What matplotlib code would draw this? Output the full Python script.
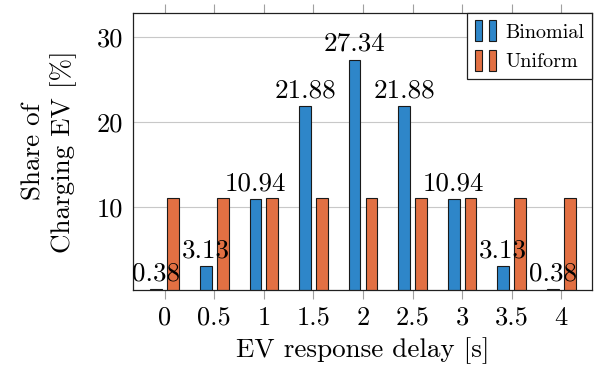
import matplotlib
matplotlib.use("Agg")
import matplotlib.pyplot as plt
from matplotlib.patches import Rectangle
from matplotlib.legend_handler import HandlerBase

plt.rcParams['font.family'] = 'serif'
plt.rcParams['font.serif'] = ['cmr10']
plt.rcParams['mathtext.fontset'] = 'cm'
plt.rcParams['axes.formatter.use_mathtext'] = True

delays = [0, 0.5, 1, 1.5, 2, 2.5, 3, 3.5, 4]
tick_labels = ["0", "0.5", "1", "1.5", "2", "2.5", "3", "3.5", "4"]
binomial = [0.38, 3.13, 10.94, 21.88, 27.34, 21.88, 10.94, 3.13, 0.38]
uniform = [11.11, 11.11, 11.11, 11.11, 11.11, 11.11, 11.11, 11.11, 11.11]
y_ticks = [10, 20, 30]

blue = '#2e86c9'
orange = '#e27043'
edge = '#1a1a1a'

fig = plt.figure(figsize=(5.97, 3.74), dpi=100)
ax = fig.add_axes([133/597, 1-290/374, (592-133)/597, (290-13)/374])

w = 0.118
off = 0.085
xb = [d - off for d in delays]
xu = [d + off for d in delays]
ax.bar(xb, binomial, width=w, color=blue, edgecolor=edge, linewidth=0.8, zorder=2)
ax.bar(xu, uniform, width=w, color=orange, edgecolor=edge, linewidth=0.8, zorder=2)

for x, v in zip(xb, binomial):
    ax.annotate(f"{v:.2f}", xy=(x, v), xytext=(0, 6.3), textcoords='offset points',
                ha='center', va='baseline', fontsize=19.5, zorder=5)

ax.set_xlim(-0.32, 4.31)
ax.set_ylim(0.3, 32.8)
ax.set_xticks(delays)
ax.set_xticklabels(tick_labels, fontsize=19)
ax.set_yticks(y_ticks)
ax.set_yticklabels([str(t) for t in y_ticks], fontsize=19)

ax.tick_params(axis='x', which='both', direction='out', length=6.5, width=0.8,
               color='#a0a0a0', pad=5, top=True, labeltop=False)
ax.tick_params(axis='y', length=0, pad=7)
ax.yaxis.grid(True, color='#c8c8c8', linewidth=0.8)
ax.set_axisbelow(True)
for s in ax.spines.values():
    s.set_linewidth(0.9)
    s.set_color('#202020')

ax.set_xlabel("EV response delay [s]", fontsize=19.5)
ax.xaxis.set_label_coords(0.5, -0.172)
ax.xaxis.label.set_va('top')
ax.set_ylabel("Share of\nCharging EV [%]", fontsize=19.5, linespacing=1.25, multialignment='center')
ax.yaxis.set_label_coords(-0.122, 0.5)


class TwoBarHandler(HandlerBase):
    def __init__(self, color):
        super().__init__()
        self.color = color

    def create_artists(self, legend, orig_handle, xdescent, ydescent, width, height, fontsize, trans):
        bw = 5.0
        bh = 15.5
        y0 = -ydescent + height / 2 - bh / 2
        r1 = Rectangle((-xdescent, y0), bw, bh, facecolor=self.color, edgecolor=edge, linewidth=0.8, transform=trans)
        r2 = Rectangle((-xdescent + 2 * bw, y0), bw, bh, facecolor=self.color, edgecolor=edge, linewidth=0.8, transform=trans)
        return [r1, r2]


h1 = Rectangle((0, 0), 1, 1)
h2 = Rectangle((0, 0), 1, 1)
leg = ax.legend([h1, h2], ["Binomial", "Uniform"], loc='upper right', bbox_to_anchor=(1.0, 1.0),
                borderaxespad=0.0, fontsize=14.5, frameon=True, fancybox=False,
                handler_map={h1: TwoBarHandler(blue), h2: TwoBarHandler(orange)},
                handlelength=1.05, handleheight=1.1, handletextpad=0.45,
                labelspacing=0.45, borderpad=0.4)
leg.get_frame().set_edgecolor('#202020')
leg.get_frame().set_linewidth(0.9)
leg.get_frame().set_alpha(1.0)

fig.savefig("out.png", dpi=100)
